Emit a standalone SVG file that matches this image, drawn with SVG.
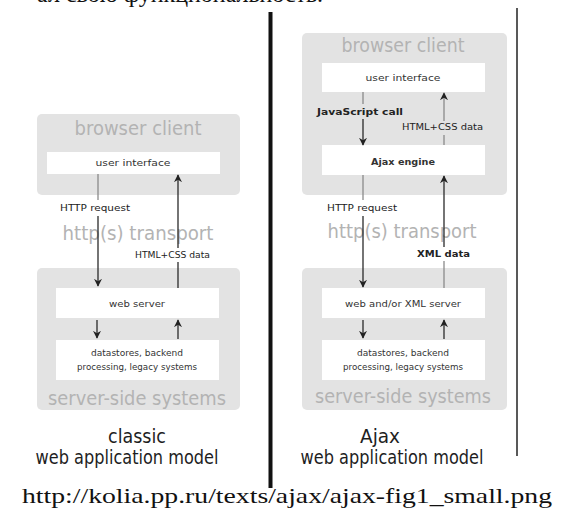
<svg xmlns="http://www.w3.org/2000/svg" width="574" height="512" viewBox="0 0 574 512">
<defs>
<marker id="ah" viewBox="0 0 10 10" refX="9" refY="5" markerWidth="8" markerHeight="8" orient="auto" markerUnits="userSpaceOnUse">
<path d="M0,0 L10,5 L0,10 L3,5 z" fill="#222"/>
</marker>
<style>
.zone{fill:#e3e3e3}
.box{fill:#ffffff}
.zl{font-family:"DejaVu Sans","Liberation Sans",sans-serif;font-size:19px;fill:#b3b3b3;text-anchor:middle}
.bl{font-family:"DejaVu Sans","Liberation Sans",sans-serif;font-size:9px;fill:#333;text-anchor:middle}
.lb{font-family:"DejaVu Sans","Liberation Sans",sans-serif;font-size:9px;fill:#222}
.b{font-weight:bold}
.cap{font-family:"DejaVu Sans","Liberation Sans",sans-serif;font-size:19px;fill:#1e1e1e;text-anchor:middle}
.ln{stroke:#2a2a2a;stroke-width:1.3;fill:none}
.lg{stroke:#8a8a8a;stroke-width:1.3;fill:none}
.arr{marker-end:url(#ah)}
</style>
</defs>
<rect width="574" height="512" fill="#ffffff"/>
<text x="323" y="1.5" font-family="Liberation Serif, serif" font-size="24" text-anchor="end" fill="#111">ал свою функциональность.</text>

<g id="divider">
<line x1="270.5" y1="12" x2="270.5" y2="488" stroke="#111" stroke-width="4"/>
<line x1="517" y1="8" x2="517" y2="456" stroke="#222" stroke-width="1.5"/>
</g>

<g id="classic">
<g id="c-browser"><rect class="zone" x="37" y="114" width="203" height="81" rx="5"/><text class="zl" x="138" y="135" textLength="127" lengthAdjust="spacingAndGlyphs">browser client</text></g>
<g id="c-ui"><rect class="box" x="47" y="152" width="173" height="22"/><text class="bl" x="133" y="166" textLength="75" lengthAdjust="spacingAndGlyphs">user interface</text></g>
<g id="c-transport"><text class="zl" x="138" y="240" textLength="151" lengthAdjust="spacingAndGlyphs">http(s) transport</text></g>
<g id="c-server"><rect class="zone" x="37" y="268" width="203" height="142" rx="5"/><text class="zl" x="137" y="405" textLength="178" lengthAdjust="spacingAndGlyphs">server-side systems</text></g>
<g id="c-web"><rect class="box" x="56" y="288" width="163" height="30"/><text class="bl" x="137" y="307" textLength="56" lengthAdjust="spacingAndGlyphs">web server</text></g>
<g id="c-data"><rect class="box" x="56" y="340" width="163" height="40"/><text class="bl" x="137" y="356" textLength="92" lengthAdjust="spacingAndGlyphs">datastores, backend</text><text class="bl" x="137" y="370" textLength="120" lengthAdjust="spacingAndGlyphs">processing, legacy systems</text></g>
<text class="cap" x="137" y="443" textLength="58" lengthAdjust="spacingAndGlyphs">classic</text>
<text class="cap" x="127" y="464" textLength="183" lengthAdjust="spacingAndGlyphs">web application model</text>
</g>

<g id="ajax">
<g id="a-browser"><rect class="zone" x="302" y="33" width="205" height="162" rx="5"/><text class="zl" x="403" y="52" textLength="123" lengthAdjust="spacingAndGlyphs">browser client</text></g>
<g id="a-ui"><rect class="box" x="322" y="63" width="163" height="29"/><text class="bl" x="403" y="81" textLength="75" lengthAdjust="spacingAndGlyphs">user interface</text></g>
<g id="a-engine"><rect class="box" x="322" y="145" width="163" height="30"/><text class="bl b" x="403" y="165" textLength="64" lengthAdjust="spacingAndGlyphs">Ajax engine</text></g>
<g id="a-transport"><text class="zl" x="402" y="238" textLength="149" lengthAdjust="spacingAndGlyphs">http(s) transport</text></g>
<g id="a-server"><rect class="zone" x="302" y="268" width="205" height="142" rx="5"/><text class="zl" x="403" y="403" textLength="176" lengthAdjust="spacingAndGlyphs">server-side systems</text></g>
<g id="a-web"><rect class="box" x="322" y="288" width="163" height="30"/><text class="bl" x="403" y="307" textLength="116" lengthAdjust="spacingAndGlyphs">web and/or XML server</text></g>
<g id="a-data"><rect class="box" x="322" y="340" width="163" height="40"/><text class="bl" x="403" y="356" textLength="92" lengthAdjust="spacingAndGlyphs">datastores, backend</text><text class="bl" x="403" y="370" textLength="120" lengthAdjust="spacingAndGlyphs">processing, legacy systems</text></g>
<text class="cap" x="380" y="443" textLength="40" lengthAdjust="spacingAndGlyphs">Ajax</text>
<text class="cap" x="392" y="464" textLength="183" lengthAdjust="spacingAndGlyphs">web application model</text>
</g>

<g id="connectors">
<line class="lg" x1="98" y1="174" x2="98" y2="200"/>
<text class="lb" x="60" y="211" textLength="70" lengthAdjust="spacingAndGlyphs">HTTP request</text>
<line class="ln arr" x1="98" y1="216" x2="98" y2="286"/>
<line class="ln" x1="178" y1="288" x2="178" y2="262"/>
<text class="lb" x="135" y="258" textLength="75" lengthAdjust="spacingAndGlyphs">HTML+CSS data</text>
<line class="ln arr" x1="178" y1="248" x2="178" y2="175"/>
<line class="ln arr" x1="97" y1="320" x2="97" y2="338"/>
<line class="ln arr" x1="178" y1="339" x2="178" y2="320"/>
<line class="lg" x1="363" y1="92" x2="363" y2="104"/>
<text class="lb b" x="317" y="115" textLength="86" lengthAdjust="spacingAndGlyphs">JavaScript call</text>
<line class="ln arr" x1="363" y1="119" x2="363" y2="145"/>
<line class="lg" x1="444" y1="145" x2="444" y2="135"/>
<text class="lb" x="402" y="130" textLength="81" lengthAdjust="spacingAndGlyphs">HTML+CSS data</text>
<line class="lg arr" x1="444" y1="121" x2="444" y2="93"/>
<line class="lg" x1="363" y1="175" x2="363" y2="200"/>
<text class="lb" x="327" y="211" textLength="70" lengthAdjust="spacingAndGlyphs">HTTP request</text>
<line class="ln arr" x1="363" y1="216" x2="363" y2="287"/>
<line class="lg" x1="444" y1="288" x2="444" y2="261"/>
<text class="lb b" x="417" y="257" textLength="53" lengthAdjust="spacingAndGlyphs">XML data</text>
<line class="ln arr" x1="444" y1="247" x2="444" y2="176"/>
<line class="ln arr" x1="363" y1="320" x2="363" y2="338"/>
<line class="ln arr" x1="444" y1="339" x2="444" y2="320"/>
</g>

<text x="22" y="503" font-family="Liberation Serif, serif" font-size="21" fill="#111" textLength="530" lengthAdjust="spacingAndGlyphs">http://kolia.pp.ru/texts/ajax/ajax-fig1_small.png</text>
</svg>
